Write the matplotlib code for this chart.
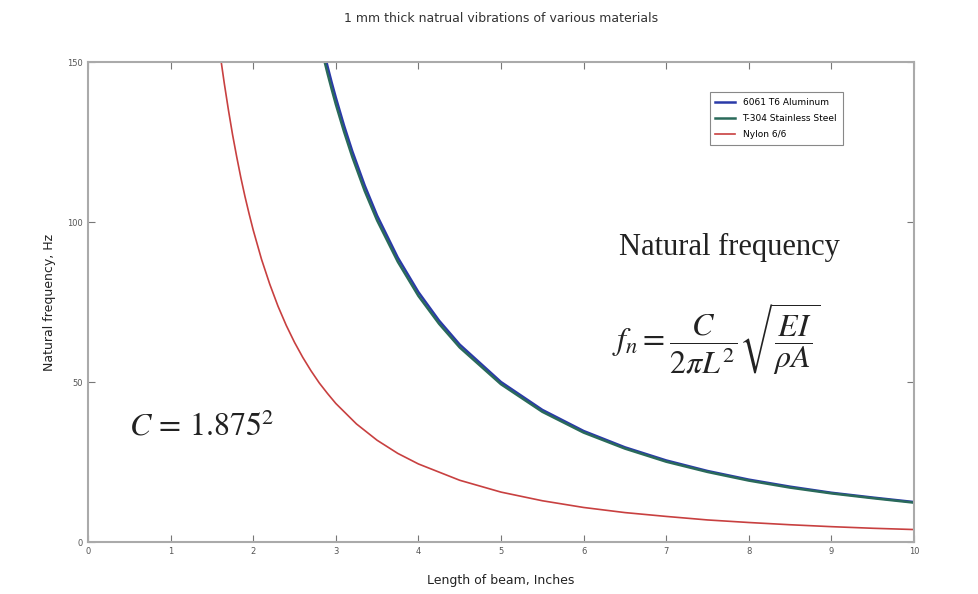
import matplotlib.pyplot as plt

# beam length (inches) and read-off natural frequencies (Hz)
L_metal = [2.8, 2.85, 2.9, 2.95, 3.0, 3.1, 3.2, 3.35, 3.5, 3.75, 4.0, 4.25, 4.5,
           5.0, 5.5, 6.0, 6.5, 7.0, 7.5, 8.0, 8.5, 9.0, 9.5, 10.0]
f_aluminum = [159.4, 153.9, 148.6, 143.6, 138.9, 130.1, 122.1, 111.4, 102.0, 88.9,
              78.1, 69.2, 61.7, 50.0, 41.3, 34.7, 29.6, 25.5, 22.2, 19.5, 17.3,
              15.4, 13.9, 12.5]
f_steel = [157.0, 151.6, 146.4, 141.5, 136.8, 128.2, 120.3, 109.7, 100.5, 87.6,
           76.9, 68.2, 60.8, 49.3, 40.7, 34.2, 29.2, 25.1, 21.9, 19.2, 17.0,
           15.2, 13.7, 12.3]

L_nylon = [1.55, 1.6, 1.65, 1.7, 1.75, 1.8, 1.85, 1.9, 1.95, 2.0, 2.1, 2.2, 2.3,
           2.4, 2.5, 2.6, 2.7, 2.8, 2.9, 3.0, 3.25, 3.5, 3.75, 4.0, 4.5, 5.0,
           5.5, 6.0, 6.5, 7.0, 7.5, 8.0, 8.5, 9.0, 9.5, 10.0]
f_nylon = [162.3, 152.3, 143.3, 135.0, 127.3, 120.4, 113.9, 108.0, 102.6, 97.5,
           88.4, 80.6, 73.7, 67.7, 62.4, 57.7, 53.5, 49.7, 46.4, 43.3, 36.9, 31.8,
           27.7, 24.4, 19.3, 15.6, 12.9, 10.8, 9.2, 8.0, 6.9, 6.1, 5.4, 4.8, 4.3,
           3.9]

labels = ["6061 T6 Aluminum", "T-304 Stainless Steel", "Nylon 6/6"]
x_ticks = [0, 1, 2, 3, 4, 5, 6, 7, 8, 9, 10]
y_ticks = [0, 50, 100, 150]

plt.rcParams['mathtext.fontset'] = 'stix'

fig = plt.figure(figsize=(9.79, 5.94), dpi=100)
ax = fig.add_axes([0.0899, 0.0875, 0.8437, 0.8081])

ax.plot(L_metal, f_aluminum, color='#2a3aa8', lw=1.8, label=labels[0])
ax.plot(L_metal, f_steel, color='#2a6a5a', lw=1.8, label=labels[1])
ax.plot(L_nylon, f_nylon, color='#c84040', lw=1.2, label=labels[2])

ax.set_xlim(0, 10)
ax.set_ylim(0, 150)
ax.set_xticks(x_ticks)
ax.set_yticks(y_ticks)
ax.tick_params(direction='in', top=True, right=True, labelsize=6,
               color='#777777', labelcolor='#555555', length=5)
for s in ax.spines.values():
    s.set_color('#aaaaaa')
    s.set_linewidth(1.5)

ax.set_title("1 mm thick natrual vibrations of various materials", fontsize=9,
             color='#333333', pad=29)
ax.set_xlabel("Length of beam, Inches", fontsize=9, color='#222222', labelpad=13)
ax.set_ylabel("Natural frequency, Hz", fontsize=9, color='#222222', labelpad=8)

leg = ax.legend(loc='upper right', bbox_to_anchor=(0.919, 0.946), fontsize=6.5,
                handlelength=2.2, borderpad=0.6, labelspacing=0.8,
                fancybox=False, framealpha=1)
leg.get_frame().set_edgecolor('#888888')
leg.get_frame().set_linewidth(0.8)

ax.text(7.77, 92, "Natural frequency", fontsize=22, family='Liberation Serif',
        ha='center', va='center', color='#222222')
ax.text(7.6, 63, r"$f_n = \dfrac{C}{2\pi L^2}\sqrt{\dfrac{EI}{\rho A}}$",
        fontsize=23, ha='center', va='center', color='#222222')
ax.text(1.38, 36, r"$C\,=\,1.875^2$", fontsize=23, ha='center', va='center',
        color='#222222')

fig.savefig("out.png", dpi=100)
